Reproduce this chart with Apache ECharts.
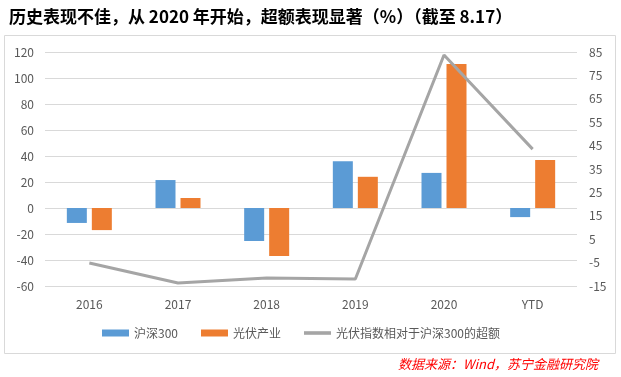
<!DOCTYPE html>
<html lang="zh">
<head>
  <meta charset="UTF-8">
  <title>光伏产业超额表现</title>
  <style>
    html, body { margin: 0; padding: 0; background: #fff; }
    #chart { width: 621px; height: 377px; }
  </style>
</head>
<body>
  <div id="chart"></div>
  <script src="https://cdn.jsdelivr.net/npm/echarts@6/dist/echarts.min.js"></script>
  <script>
    // 数据
    var years = ['2016', '2017', '2018', '2019', '2020', 'YTD']
    var hs300 = [-11.5, 21.5, -25.4, 36, 27, -7]
    var pvIndustry = [-17, 7.7, -37, 24, 110.8, 37]
    var excess = [-5.2, -13.7, -11.6, -12, 83.7, 43.5]

    var font = '"Noto Sans CJK SC", "Noto Sans", sans-serif'
    var myChart = echarts.init(document.getElementById('chart'))

    var option = {
      animation: false,
      textStyle: { fontFamily: font },
      title: {
        text: '历史表现不佳，从 2020 年开始，超额表现显著（%）（截至 8.17）',
        left: 4,
        top: 3,
        textStyle: { color: '#000', fontSize: 17, fontWeight: 'bold', fontFamily: font }
      },
      graphic: [
        {
          type: 'rect',
          shape: { x: 4.5, y: 35.5, width: 611, height: 318 },
          style: { fill: 'none', stroke: '#D9D9D9', lineWidth: 1 },
          z: -1
        },
        {
          type: 'text',
          right: 23,
          top: 358,
          style: {
            text: '数据来源：Wind，苏宁金融研究院',
            fill: '#FF0000',
            font: 'italic 13px "Noto Sans CJK SC", sans-serif'
          }
        }
      ],
      legend: {
        left: 97,
        top: 322,
        itemWidth: 27,
        itemHeight: 7,
        itemGap: 23,
        textStyle: { color: '#595959', fontSize: 12 },
        data: [
          { name: '沪深300', icon: 'rect' },
          { name: '光伏产业', icon: 'rect' },
          { name: '光伏指数相对于沪深300的超额', icon: 'path://M0,0 H30 V4 H0 Z' }
        ]
      },
      grid: { left: 45, right: 44, top: 52, bottom: 91 },
      xAxis: {
        type: 'category',
        data: years,
        axisLine: { show: false },
        axisTick: { show: false },
        axisLabel: { color: '#595959', fontSize: 12, margin: 12 }
      },
      yAxis: [
        {
          type: 'value',
          min: -60,
          max: 120,
          interval: 20,
          axisLabel: { color: '#595959', fontSize: 12, margin: 11 },
          splitLine: { lineStyle: { color: '#D9D9D9' } }
        },
        {
          type: 'value',
          min: -15,
          max: 85,
          interval: 10,
          axisLabel: { color: '#595959', fontSize: 12, margin: 12 },
          splitLine: { show: false }
        }
      ],
      series: [
        {
          name: '沪深300',
          type: 'bar',
          data: hs300,
          barWidth: 20,
          barGap: '25%',
          itemStyle: { color: '#5B9BD5' }
        },
        {
          name: '光伏产业',
          type: 'bar',
          data: pvIndustry,
          barWidth: 20,
          itemStyle: { color: '#ED7D31' }
        },
        {
          name: '光伏指数相对于沪深300的超额',
          type: 'line',
          yAxisIndex: 1,
          data: excess,
          symbol: 'none',
          itemStyle: { color: '#A5A5A5' },
          lineStyle: { color: '#A5A5A5', width: 3 }
        }
      ]
    }
    myChart.setOption(option)
  </script>
</body>
</html>
